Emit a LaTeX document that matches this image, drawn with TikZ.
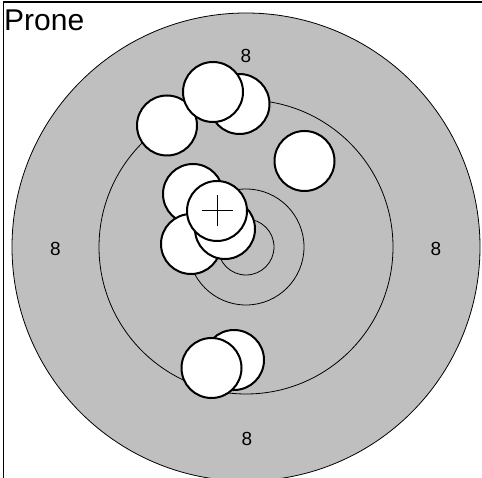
\documentclass[tikz,border=0pt]{standalone}
\usepackage{fontspec}
\setmainfont{Liberation Sans}
\begin{document}
\begin{tikzpicture}[x=1pt,y=-1pt,
  ring/.style={draw=black,line width=0.8pt},
  shot/.style={circle,draw=black,fill=white,line width=2pt,minimum size=60pt,inner sep=0pt},
  score/.style={font=\fontsize{19}{19}\selectfont,inner sep=0pt}]
\useasboundingbox (0,0) rectangle (482,478);
\begin{scope}
\clip (0,0) rectangle (482,478);
\draw[line width=1.5pt] (3.5,600) -- (3.5,2) -- (600,2);
\fill[gray!50] (246,247) circle (234);
\draw[ring] (246,247) circle (234);
\draw[ring] (246,247) circle (147);
\draw[ring] (246,247) circle (58);
\draw[ring] (246,247) circle (28);
\end{scope}
\node[anchor=north west,inner sep=0pt,font=\fontsize{30}{30}\selectfont] (title) at (4,10) {Prone};
\node[score] (s8t) at (246,55.5) {8};
\node[score] (s8l) at (55.5,249) {8};
\node[score] (s8r) at (436,249) {8};
\node[score] (s8b) at (247,439) {8};
% shots
\node[shot] (h3) at (167,125.5) {};
\node[shot] (h2) at (239.5,104) {};
\node[shot] (h1) at (213,92) {};
\node[shot] (h4) at (304.5,161) {};
\node[shot] (h5) at (193,194) {};
\node[shot] (h6) at (191,244) {};
\node[shot] (h7) at (225,229) {};
\node[shot] (h8) at (217,211) {};
\draw[line width=1pt] ([xshift=-15.5pt]h8.center) -- ([xshift=15.5pt]h8.center);
\draw[line width=1pt] ([yshift=-15.5pt]h8.center) -- ([yshift=15.5pt]h8.center);
\node[shot] (h9) at (234,360) {};
\node[shot] (h10) at (211.5,368) {};
\end{tikzpicture}
\end{document}
